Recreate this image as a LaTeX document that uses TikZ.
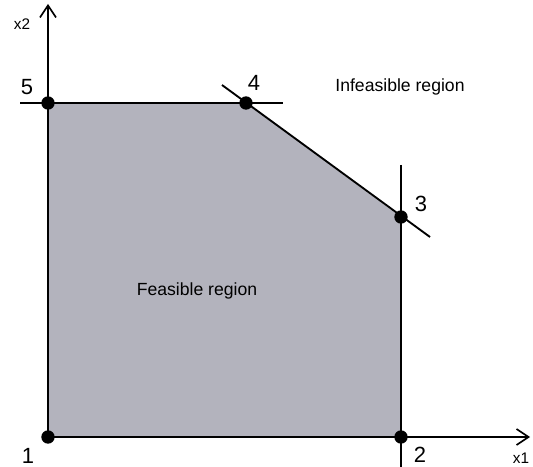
\documentclass[tikz,border=0pt]{standalone}
\usepackage{fontspec}
\setmainfont{Liberation Sans}
\usetikzlibrary{arrows.meta}
\definecolor{feas}{RGB}{179,179,189}
\tikzset{
  axis/.style={line width=1.4pt, -{Straight Barb[length=9pt,width=12pt,line width=1.2pt]}},
  cline/.style={line width=1.4pt},
  vdot/.style={circle, fill=black, inner sep=0pt, minimum size=10pt},
  num/.style={font=\fontsize{16.5}{18}\selectfont, inner sep=0pt},
  axlab/.style={font=\fontsize{11.5}{13}\selectfont, inner sep=0pt},
  reglab/.style={font=\fontsize{13.2}{15}\selectfont, inner sep=0pt}
}
\begin{document}
\begin{tikzpicture}[x=0.75pt,y=-0.75pt]
\useasboundingbox (0,0) rectangle (533,467);
% vertices
\coordinate (p1) at (48,437);
\coordinate (p2) at (401,437);
\coordinate (p3) at (401,217);
\coordinate (p4) at (246,103);
\coordinate (p5) at (48,103);
% line ends
\coordinate (ytip) at (48,4);
\coordinate (xtip) at (530,437);
\coordinate (hl) at (20,103);
\coordinate (hr) at (283,103);
\coordinate (vt) at (401,165);
\coordinate (vb) at (401,467);
\coordinate (da) at (222,85);
\coordinate (db) at (430,237);
% feasible region
\fill[feas] (p1) -- (p5) -- (p4) -- (p3) -- (p2) -- cycle;
% constraint lines
\draw[cline] (hl) -- (hr);
\draw[cline] (vt) -- (vb);
\draw[cline] (da) -- (db);
% axes
\draw[axis] (p1) -- (ytip);
\draw[axis] (p1) -- (xtip);
% vertices dots
\foreach \p in {p1,p2,p3,p4,p5} \node[vdot] at (\p) {};
% labels
\node[num] (l1) at (28,456) {1};
\node[num] (l2) at (420,455) {2};
\node[num] (l3) at (421,204) {3};
\node[num] (l4) at (254,83) {4};
\node[num] (l5) at (27,87) {5};
\node[axlab] (lx1) at (521,458) {x1};
\node[axlab] (lx2) at (22,24) {x2};
\node[reglab] (inf) at (400,87) {Infeasible region};
\node[reglab] (fea) at (197,291) {Feasible region};
\end{tikzpicture}
\end{document}
